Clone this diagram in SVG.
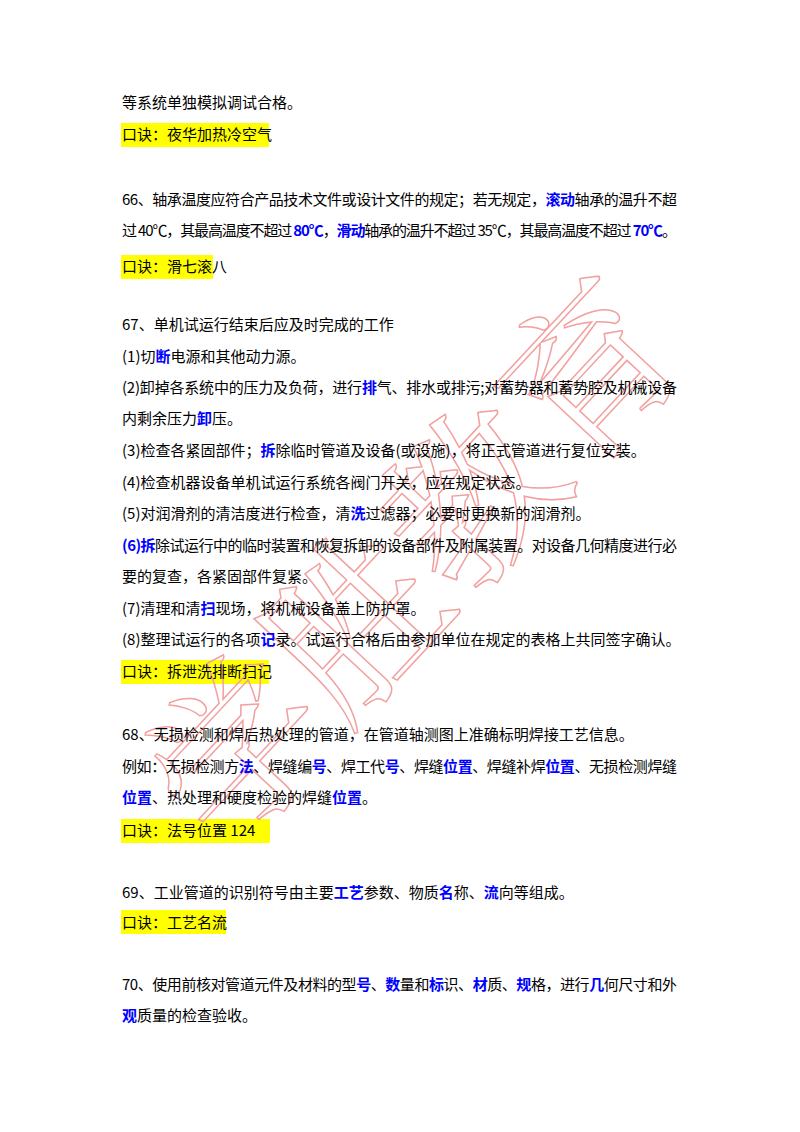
<svg xmlns="http://www.w3.org/2000/svg" width="800" height="1132" viewBox="0 0 800 1132">
<style>
text{font-family:"Noto Sans CJK SC","Liberation Sans",sans-serif;font-size:15px;fill:#000}
.b{fill:#0000ff;font-weight:bold}
.hl{fill:#ffff00}
.wm{font-family:"Noto Serif CJK SC","Noto Sans CJK SC",serif;font-size:172px;fill:none;stroke:#f2a0a0;stroke-width:1.5}
</style>
<rect width="800" height="1132" fill="#fff"/>
<g id="highlights">
<rect class="hl" x="121" y="123" width="148" height="24"/>
<rect class="hl" x="121" y="255" width="92" height="24"/>
<rect class="hl" x="121" y="660" width="148" height="24"/>
<rect class="hl" x="121" y="819" width="149" height="24"/>
<rect class="hl" x="121" y="910" width="105" height="24"/>
</g>
<g id="watermark"><text class="wm" transform="translate(225,855) rotate(-47)">学胜教育</text></g>
<g id="text">
<text x="122" y="108">等系统单独模拟调试合格。</text>
<text x="122" y="140">口诀：夜华加热冷空气</text>
<text x="122" y="205" textLength="555" lengthAdjust="spacing">66、轴承温度应符合产品技术文件或设计文件的规定；若无规定，<tspan class="b">滚动</tspan>轴承的温升不超</text>
<text x="122" y="236" textLength="555" lengthAdjust="spacing">过 40℃，其最高温度不超过 <tspan class="b">80℃</tspan>，<tspan class="b">滑动</tspan>轴承的温升不超过 35℃，其最高温度不超过 <tspan class="b">70℃</tspan>。</text>
<text x="122" y="272">口诀：滑七滚八</text>
<text x="122" y="330">67、单机试运行结束后应及时完成的工作</text>
<text x="122" y="362">(1)切<tspan class="b">断</tspan>电源和其他动力源。</text>
<text x="122" y="393" textLength="555" lengthAdjust="spacing">(2)卸掉各系统中的压力及负荷，进行<tspan class="b">排</tspan>气、排水或排污;对蓄势器和蓄势腔及机械设备</text>
<text x="122" y="424">内剩余压力<tspan class="b">卸</tspan>压。</text>
<text x="122" y="456">(3)检查各紧固部件；<tspan class="b">拆</tspan>除临时管道及设备(或设施)，将正式管道进行复位安装。</text>
<text x="122" y="488">(4)检查机器设备单机试运行系统各阀门开关，应在规定状态。</text>
<text x="122" y="519">(5)对润滑剂的清洁度进行检查，清<tspan class="b">洗</tspan>过滤器；必要时更换新的润滑剂。</text>
<text x="122" y="551" textLength="555" lengthAdjust="spacing"><tspan class="b">(6)拆</tspan>除试运行中的临时装置和恢复拆卸的设备部件及附属装置。对设备几何精度进行必</text>
<text x="122" y="582">要的复查，各紧固部件复紧。</text>
<text x="122" y="614">(7)清理和清<tspan class="b">扫</tspan>现场，将机械设备盖上防护罩。</text>
<text x="122" y="645">(8)整理试运行的各项<tspan class="b">记</tspan>录。试运行合格后由参加单位在规定的表格上共同签字确认。</text>
<text x="122" y="677">口诀：拆泄洗排断扫记</text>
<text x="122" y="740">68、无损检测和焊后热处理的管道，在管道轴测图上准确标明焊接工艺信息。</text>
<text x="122" y="772" textLength="555" lengthAdjust="spacing">例如：无损检测方<tspan class="b">法</tspan>、焊缝编<tspan class="b">号</tspan>、焊工代<tspan class="b">号</tspan>、焊缝<tspan class="b">位置</tspan>、焊缝补焊<tspan class="b">位置</tspan>、无损检测焊缝</text>
<text x="122" y="803"><tspan class="b">位置</tspan>、热处理和硬度检验的焊缝<tspan class="b">位置</tspan>。</text>
<text x="122" y="836">口诀：法号位置 124</text>
<text x="122" y="898">69、工业管道的识别符号由主要<tspan class="b">工艺</tspan>参数、物质<tspan class="b">名</tspan>称、<tspan class="b">流</tspan>向等组成。</text>
<text x="122" y="928">口诀：工艺名流</text>
<text x="122" y="990" textLength="555" lengthAdjust="spacing">70、使用前核对管道元件及材料的型<tspan class="b">号</tspan>、<tspan class="b">数</tspan>量和<tspan class="b">标</tspan>识、<tspan class="b">材</tspan>质、<tspan class="b">规</tspan>格，进行<tspan class="b">几</tspan>何尺寸和外</text>
<text x="122" y="1021"><tspan class="b">观</tspan>质量的检查验收。</text>
</g>
</svg>
